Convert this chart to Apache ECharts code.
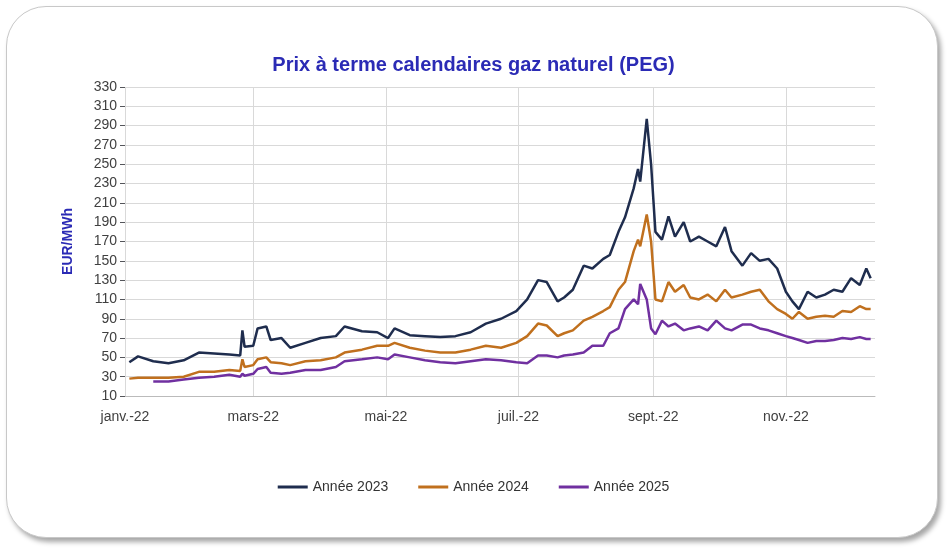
<!DOCTYPE html>
<html><head><meta charset="utf-8">
<script src="https://cdn.jsdelivr.net/npm/echarts@6/dist/echarts.min.js"></script>
<style>
html,body{margin:0;padding:0;background:#fff;}
#frame{position:absolute;left:6px;top:6px;width:930px;height:530px;border:1px solid #c8c8c8;border-radius:40px;box-shadow:3px 4px 5px rgba(0,0,0,0.35);background:#fff;}
#c{position:absolute;left:0;top:0;width:947px;height:551px;}
</style></head><body>
<div id="frame"></div><div id="c"></div>
<script>
const dates=["2022-01-03","2022-01-07","2022-01-14","2022-01-21","2022-01-28","2022-02-04","2022-02-11","2022-02-18","2022-02-23","2022-02-24","2022-02-25","2022-03-01","2022-03-03","2022-03-07","2022-03-09","2022-03-14","2022-03-18","2022-03-25","2022-04-01","2022-04-08","2022-04-12","2022-04-20","2022-04-27","2022-05-02","2022-05-05","2022-05-12","2022-05-19","2022-05-26","2022-06-02","2022-06-09","2022-06-16","2022-06-23","2022-06-30","2022-07-05","2022-07-10","2022-07-14","2022-07-19","2022-07-22","2022-07-26","2022-07-31","2022-08-04","2022-08-09","2022-08-12","2022-08-16","2022-08-19","2022-08-23","2022-08-25","2022-08-26","2022-08-29","2022-08-31","2022-09-02","2022-09-05","2022-09-08","2022-09-11","2022-09-15","2022-09-18","2022-09-22","2022-09-26","2022-09-30","2022-10-04","2022-10-07","2022-10-12","2022-10-16","2022-10-20","2022-10-24","2022-10-28","2022-11-01","2022-11-04","2022-11-07","2022-11-11","2022-11-15","2022-11-19","2022-11-23","2022-11-27","2022-12-01","2022-12-05","2022-12-08","2022-12-10"];
const y2023=[45,51,46,44,47,55,54,53,52,78,61,62,80,82,68,70,60,65,70,72,82,77,76,70,80,73,72,71,72,76,85,90,98,110,130,128,108,112,120,145,142,152,156,180,195,225,245,232,297,250,180,172,196,175,190,170,175,170,165,185,160,145,158,150,152,142,118,108,100,118,112,115,120,118,132,125,142,132];
const y2024=[28,29,29,29,30,35,35,37,36,48,40,42,48,50,45,44,42,46,47,50,55,58,62,62,65,60,57,55,55,58,62,60,65,72,85,83,72,75,78,88,92,98,102,120,128,160,172,165,198,170,110,108,128,118,125,112,110,115,108,120,112,115,118,120,108,100,95,90,97,90,92,93,92,98,97,103,100,100];
const y2025=[null,null,25,25,27,29,30,32,30,33,31,33,38,40,34,33,34,37,37,40,46,48,50,48,53,50,47,45,44,46,48,47,45,44,52,52,50,52,53,55,62,62,75,80,100,110,105,126,110,80,74,88,82,85,78,80,82,78,88,80,78,84,84,80,78,75,72,70,68,65,67,67,68,70,69,71,69,69];
const tickDates=["2022-01-01","2022-03-01","2022-05-01","2022-07-01","2022-09-01","2022-11-01"];
const tickLabels=["janv.-22","mars-22","mai-22","juil.-22","sept.-22","nov.-22"];
const day0=Date.UTC(2022,0,1);
const dayOf=d=>Math.round((Date.parse(d+"T00:00:00Z")-day0)/86400000);
const ticks=tickDates.map(dayOf);
const toS=a=>dates.map((d,i)=>[dayOf(d),a[i]]);
const ch=echarts.init(document.getElementById('c'));
ch.setOption({
 animation:false,
 title:{text:"Prix à terme calendaires gaz naturel (PEG)",left:'center',top:50,textStyle:{color:'#2b2bb5',fontSize:20,fontWeight:'bold',fontFamily:'Liberation Sans'}},
 grid:{left:125,right:72,top:87,bottom:155},
 legend:{bottom:52,left:'center',itemGap:30,icon:'path://M0,0H30V3H0Z',itemWidth:30,itemHeight:3,textStyle:{fontSize:14,color:'#333',fontFamily:'Liberation Sans'},
   data:["Année 2023","Année 2024","Année 2025"]},
 xAxis:{type:'value',min:0,max:345,
   axisLine:{lineStyle:{color:'#bbb'}},axisTick:{show:false,customValues:ticks},
   splitLine:{show:true,lineStyle:{color:'#d9d9d9'}},
   axisLabel:{customValues:ticks,formatter:v=>{const i=ticks.indexOf(Math.round(v));return i>=0?tickLabels[i]:'';},color:'#404040',fontSize:14,margin:14,fontFamily:'Liberation Sans'}},
 yAxis:{type:'value',min:10,max:330,interval:20,name:'EUR/MWh',nameLocation:'middle',nameGap:50,
   nameTextStyle:{color:'#2b2bb5',fontWeight:'bold',fontSize:14,fontFamily:'Liberation Sans'},
   axisLabel:{color:'#404040',fontSize:14,fontFamily:'Liberation Sans'},
   splitLine:{lineStyle:{color:'#d9d9d9'}},axisLine:{show:false}},
 series:[
  {name:"Année 2023",type:'line',data:toS(y2023),showSymbol:false,lineStyle:{width:2.5,color:'#1f2d4e'},itemStyle:{color:'#1f2d4e'}},
  {name:"Année 2024",type:'line',data:toS(y2024),showSymbol:false,lineStyle:{width:2.5,color:'#c0701e'},itemStyle:{color:'#c0701e'}},
  {name:"Année 2025",type:'line',data:toS(y2025),showSymbol:false,lineStyle:{width:2.5,color:'#7030a0'},itemStyle:{color:'#7030a0'}}
 ]
});
</script></body></html>
